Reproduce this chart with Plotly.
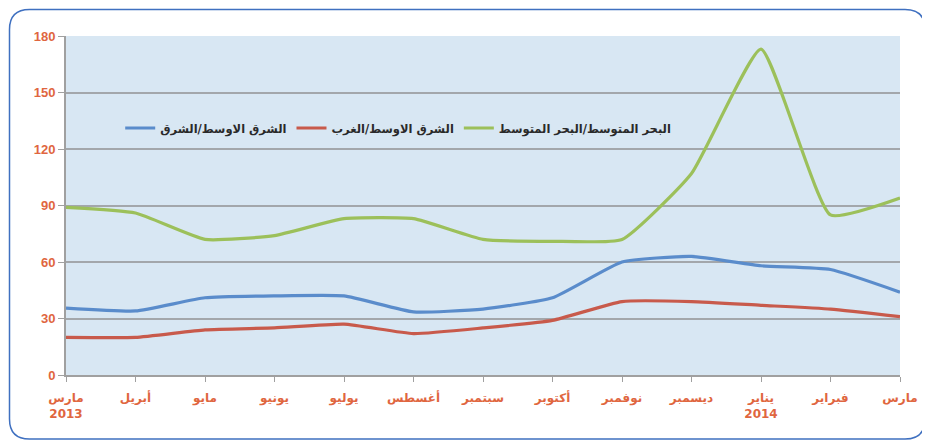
import plotly.graph_objects as go

months = ["مارس<br>2013", "أبريل", "مايو", "يونيو", "يوليو", "أغسطس", "سبتمبر",
          "أكتوبر", "نوفمبر", "ديسمبر", "يناير<br>2014", "فبراير", "مارس"]
x_idx = list(range(len(months)))

me_east = [35.5, 34, 41, 42, 42, 33.5, 35, 41, 60, 63, 58, 56, 44]
me_west = [20, 20, 24, 25, 27, 22, 25, 29, 39, 39, 37, 35, 31]
med_med = [89, 86, 72, 74, 83, 83, 72, 71, 72, 107, 173, 85, 94]

names = ["الشرق الاوسط/الشرق", "الشرق الاوسط/الغرب", "البحر المتوسط/البحر المتوسط"]
colors = ["#5a8ccb", "#c85a4b", "#9cc05a"]
series = [me_east, me_west, med_med]

fig = go.Figure()
for nm, col, vals in zip(names, colors, series):
    fig.add_trace(go.Scatter(x=x_idx, y=vals, name="<b>" + nm + "</b>", mode="lines",
                             line=dict(color=col, width=3.2, shape="spline", smoothing=0.45)))

OFF = 8  # page body margin
L, R, T, B = 66 - OFF, 30, 36 - OFF, 67
FW, FH = 930 - OFF, 442 - OFF
W, H = FW - L - R, FH - T - B

def px(x):
    return (x - OFF - L) / W

def py(y):
    return 1 - (y - OFF - T) / H

x0, x1, y0, y1, r = 9.5, 925, 9.5, 439, 20
path = (f"M {px(x0 + r)},{py(y0)} L {px(x1 - r)},{py(y0)} "
        f"Q {px(x1)},{py(y0)} {px(x1)},{py(y0 + r)} "
        f"L {px(x1)},{py(y1 - r)} Q {px(x1)},{py(y1)} {px(x1 - r)},{py(y1)} "
        f"L {px(x0 + r)},{py(y1)} Q {px(x0)},{py(y1)} {px(x0)},{py(y1 - r)} "
        f"L {px(x0)},{py(y0 + r)} Q {px(x0)},{py(y0)} {px(x0 + r)},{py(y0)} Z")

fig.add_shape(type="path", path=path, xref="paper", yref="paper",
              line=dict(color="#3f70c0", width=1.5), layer="above")

fig.update_layout(
    width=FW, height=FH,
    margin=dict(l=L, r=R, t=T, b=B, autoexpand=False),
    paper_bgcolor="white",
    plot_bgcolor="#d8e7f3",
    font=dict(family="DejaVu Sans", size=12, color="#333333"),
    showlegend=True,
    legend=dict(orientation="h", x=0.065, y=py(128), xanchor="left", yanchor="middle",
                bgcolor="rgba(0,0,0,0)", font=dict(family="DejaVu Sans", size=11.5, color="#2a2a2a"),
                traceorder="normal"),
    xaxis=dict(range=[0, 12], tickmode="array", tickvals=x_idx,
               ticktext=["<b>" + m + "</b>" for m in months],
               showgrid=False, zeroline=False, showline=True, linecolor="#a0a0a0", linewidth=2,
               ticks="outside", ticklen=5, tickcolor="#a0a0a0", ticklabelstandoff=6,
               tickfont=dict(family="DejaVu Sans", size=12, color="#e0663f")),
    yaxis=dict(range=[0, 180], tickmode="array", tickvals=[0, 30, 60, 90, 120, 150, 180],
               ticktext=["<b>%d</b>" % v for v in [0, 30, 60, 90, 120, 150, 180]],
               showgrid=True, gridcolor="#a3a7ab", gridwidth=2, zeroline=False,
               showline=True, linecolor="#a0a0a0", linewidth=2,
               ticks="outside", ticklen=6, tickcolor="#a0a0a0",
               tickfont=dict(family="Liberation Sans", size=13, color="#e0663f")),
)

fig.write_html("out.html")
